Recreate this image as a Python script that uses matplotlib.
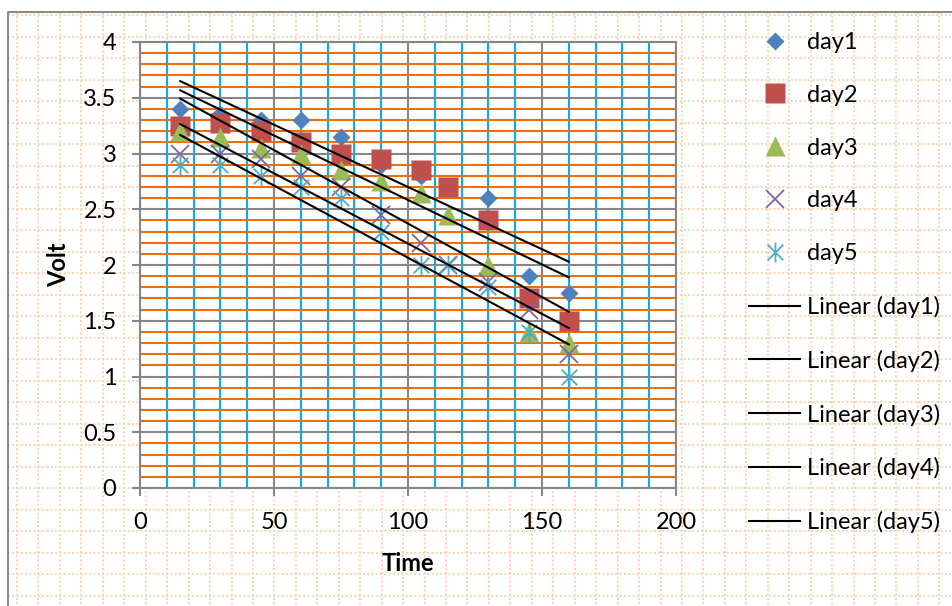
import numpy as np
import matplotlib
matplotlib.use("Agg")
import matplotlib.pyplot as plt
from matplotlib.path import Path
from matplotlib.ticker import MultipleLocator, FuncFormatter

plt.rcParams["font.family"] = ["Lato", "DejaVu Sans"]

# 측정 시간 (x) 과 날짜별 전압
time = [15, 30, 45, 60, 75, 90, 105, 115, 130, 145, 160]
day1 = [3.4, 3.35, 3.3, 3.3, 3.15, 2.9, 2.8, 2.7, 2.6, 1.9, 1.75]
day2 = [3.25, 3.27, 3.2, 3.1, 3.0, 2.95, 2.85, 2.7, 2.4, 1.7, 1.5]
day3 = [3.2, 3.15, 3.05, 3.0, 2.85, 2.75, 2.65, 2.45, 2.0, 1.4, 1.3]
day4 = [3.0, 3.0, 2.95, 2.8, 2.7, 2.45, 2.2, 2.0, 1.85, 1.6, 1.2]
day5 = [2.9, 2.9, 2.8, 2.7, 2.6, 2.3, 2.0, 2.0, 1.8, 1.4, 1.0]
names = ["day1", "day2", "day3", "day4", "day5"]
colors = ["#4f81bd", "#c0504d", "#9bbb59", "#8064a2", "#4bacc6"]

W, H = 952, 606
FS = 17

# excel style asterisk: X plus vertical stroke
star = Path([(0, -1), (0, 1), (-0.8, -0.8), (0.8, 0.8), (-0.8, 0.8), (0.8, -0.8)],
            [Path.MOVETO, Path.LINETO] * 3)
styles = [
    dict(marker="D", ms=9.5, mec="none"),
    dict(marker="s", ms=14, mec="none"),
    dict(marker="^", ms=14, mec="none"),
    dict(marker="x", ms=13.5, mew=1.3),
    dict(marker=star, ms=14, mew=1.3, mfc="none"),
]

fig = plt.figure(figsize=(W / 100, H / 100), dpi=100)

# background: dotted pattern + chart frame
bg = fig.add_axes([0, 0, 1, 1], zorder=0)
bg.set_xlim(0, W)
bg.set_ylim(H, 0)
bg.axis("off")
dot = dict(color="#fad2ae", lw=1.4, linestyles=(0, (1, 1.2)))
bg.hlines(np.arange(15, H, 21.5), 8, W, **dot)
bg.vlines(np.arange(17, W, 21.45), 12, H, **dot)
bg.plot([8, 8, W], [H, 12, 12], color="#8c8c8c", lw=1.5)

ax = fig.add_axes([140 / W, 118 / H, 536 / W, 446 / H], zorder=1)
ax.set_facecolor("white")

series = [day1, day2, day3, day4, day5]
x = np.array(time)
handles, trends = [], []
for ys, nm, c, st in zip(series, names, colors, styles):
    h, = ax.plot(time, ys, ls="none", color=c, label=nm, zorder=3, **st)
    handles.append(h)
for ys, nm in zip(series, names):
    k, b = np.polyfit(x, ys, 1)
    t, = ax.plot(x[[0, -1]], k * x[[0, -1]] + b, color="black", lw=1.5,
                 zorder=4, label=f"Linear ({nm})")
    trends.append(t)

ax.set_xlim(0, 200)
ax.set_ylim(0, 4)
ax.xaxis.set_major_locator(MultipleLocator(50))
ax.xaxis.set_minor_locator(MultipleLocator(10))
ax.yaxis.set_major_locator(MultipleLocator(0.5))
ax.yaxis.set_minor_locator(MultipleLocator(0.1))
ax.yaxis.set_major_formatter(FuncFormatter(lambda v, p: f"{v:g}"))

ax.set_axisbelow(True)
ax.grid(which="minor", axis="y", color="#e8700f", lw=1.5)
ax.grid(which="minor", axis="x", color="#00b0f0", lw=1.5)
ax.grid(which="major", color="#868686", lw=1.5)
for s in ax.spines.values():
    s.set_color("#868686")
    s.set_linewidth(1.5)
ax.tick_params(which="major", length=6, width=1.5, color="#868686",
               labelsize=FS, pad=11)
ax.tick_params(which="minor", length=0)

ax.set_xlabel("Time", fontsize=FS, fontweight="bold")
ax.set_ylabel("Volt", fontsize=FS, fontweight="bold")
ax.xaxis.set_label_coords(0.5, -0.143)
ax.yaxis.set_label_coords(-0.13, 0.5)

fig.legend(handles + trends, [h.get_label() for h in handles + trends],
           loc="upper left", bbox_to_anchor=(749 / W, 1 - 32 / H),
           frameon=False, fontsize=FS, handlelength=2.16, handletextpad=0.3,
           labelspacing=1.345, borderpad=0, borderaxespad=0)

fig.savefig("out.png", dpi=100, facecolor="white")
